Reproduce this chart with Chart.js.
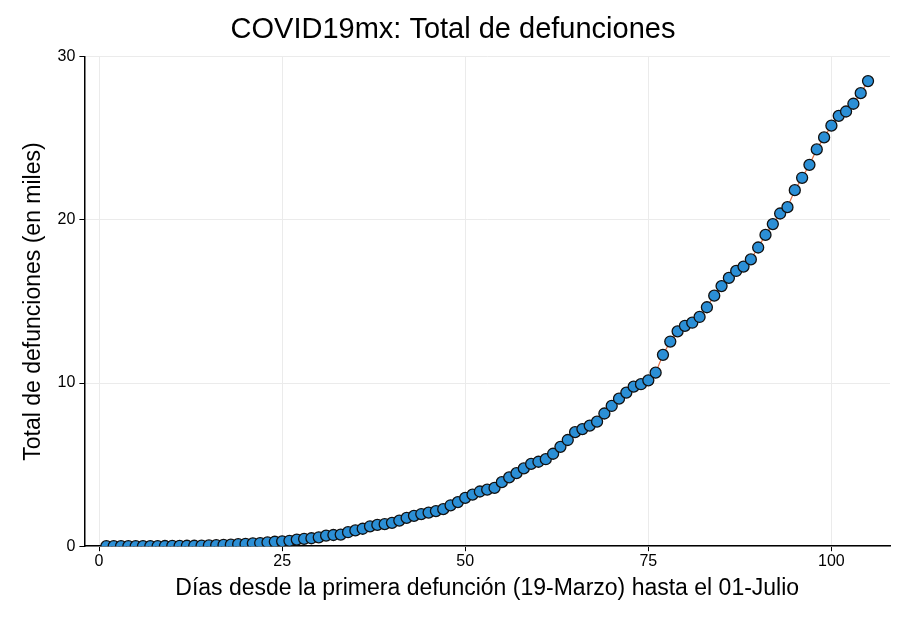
<!DOCTYPE html>
<html>
<head>
<meta charset="utf-8">
<script src="https://cdn.jsdelivr.net/npm/chart.js@4"></script>
<style>
  body { margin: 0; background: #fff; }
  canvas { display: block; }
</style>
</head>
<body>
<canvas id="chart" width="912" height="627"></canvas>
<script>
// Total de defunciones (miles), día 1 = 19-Marzo ... día 105 = 01-Julio
const deaths = [
    // marzo 19-31
    0.001, 0.002, 0.002, 0.003, 0.004, 0.005, 0.006, 0.008, 0.012, 0.016, 0.020, 0.028, 0.029,
    // abril
    0.037, 0.050, 0.060, 0.079, 0.094, 0.125, 0.141, 0.174, 0.194, 0.233,
    0.273, 0.296, 0.332, 0.406, 0.449, 0.486, 0.546, 0.650, 0.686, 0.712,
    0.857, 0.970, 1.069, 1.221, 1.305, 1.351, 1.434, 1.569, 1.732, 1.859,
    // mayo
    1.972, 2.061, 2.154, 2.271, 2.507, 2.704, 2.961, 3.160, 3.353, 3.465,
    3.573, 3.926, 4.220, 4.477, 4.767, 5.045, 5.177, 5.332, 5.666, 6.090,
    6.510, 6.989, 7.179, 7.394, 7.633, 8.134, 8.597, 9.044, 9.415, 9.779, 9.930,
    // junio
    10.167, 10.637, 11.729, 12.545, 13.170, 13.511, 13.699, 14.053, 14.649, 15.357,
    15.944, 16.448, 16.872, 17.141, 17.580, 18.310, 19.080, 19.747, 20.394, 20.781,
    21.825, 22.584, 23.377, 24.324, 25.060, 25.779, 26.381, 26.648, 27.121, 27.769,
    // julio 1
    28.510
];
const days = deaths.map((_, i) => i + 1);
const xTicks = [0, 25, 50, 75, 100];
const yTicks = [0, 10, 20, 30];

const points = days.map((d, i) => ({ x: d, y: deaths[i] }));
const font = 'Liberation Sans, Arial, sans-serif';

new Chart(document.getElementById('chart').getContext('2d'), {
    type: 'scatter',
    data: {
        datasets: [{
            data: points,
            showLine: true,
            borderColor: '#e26f46',
            borderWidth: 1.2,
            pointRadius: 5.5,
            pointBackgroundColor: '#2b8fd6',
            pointBorderColor: '#111',
            pointBorderWidth: 1.3
        }]
    },
    options: {
        responsive: false,
        animation: false,
        layout: { padding: { top: 0, right: 22, bottom: 21, left: 16 } },
        plugins: {
            legend: { display: false },
            tooltip: { enabled: false },
            title: {
                display: true,
                text: 'COVID19mx: Total de defunciones',
                color: '#000',
                font: { family: font, size: 29, weight: 'normal' },
                padding: { top: 13, bottom: 9 }
            }
        },
        scales: {
            x: {
                type: 'linear',
                min: -2,
                max: 108,
                afterBuildTicks: axis => { axis.ticks = xTicks.map(v => ({ value: v })); },
                grid: { color: '#ebebeb', drawTicks: true, tickLength: 5, tickColor: '#000' },
                border: { color: '#000', width: 1.5 },
                ticks: { color: '#000', font: { family: font, size: 16 }, padding: 1 },
                title: {
                    display: true,
                    text: 'Días desde la primera defunción (19-Marzo) hasta el 01-Julio',
                    color: '#000',
                    font: { family: font, size: 23 },
                    padding: { top: 2 }
                }
            },
            y: {
                min: 0,
                max: 30,
                afterBuildTicks: axis => { axis.ticks = yTicks.map(v => ({ value: v })); },
                grid: { color: '#ebebeb', tickLength: 5, tickColor: '#000' },
                border: { color: '#000', width: 1.5 },
                ticks: { color: '#000', font: { family: font, size: 16 }, padding: 4 },
                title: {
                    display: true,
                    text: 'Total de defunciones (en miles)',
                    color: '#000',
                    font: { family: font, size: 23 },
                    padding: { bottom: 6 }
                }
            }
        }
    }
});
</script>
</body>
</html>
